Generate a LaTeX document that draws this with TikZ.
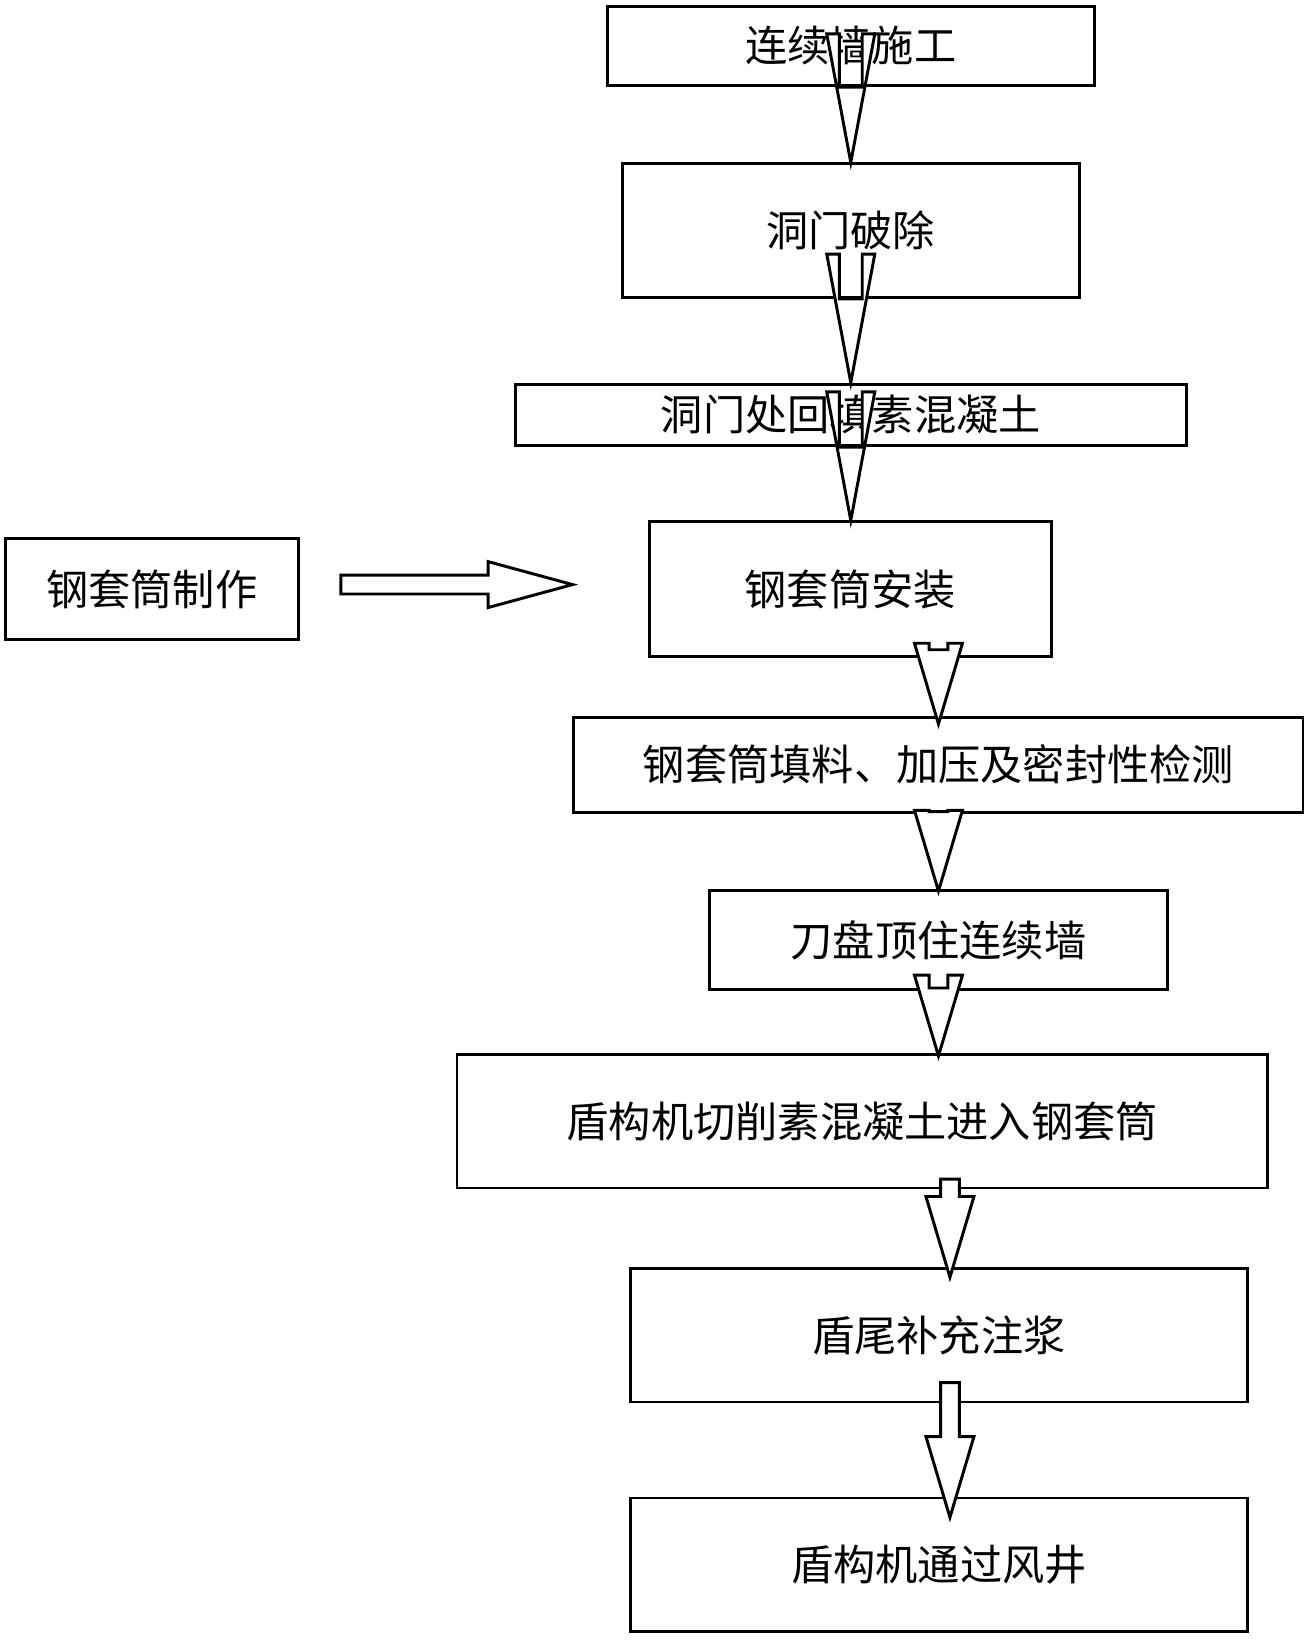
\documentclass[tikz,border=0pt]{standalone}
\usepackage{fontspec}
\setmainfont{Noto Sans CJK SC}
\usetikzlibrary{calc}
\tikzset{
  step/.style={draw, thick, minimum height=#1, inner sep=0pt, font=\fontsize{11.5}{14}\selectfont},
  blk/.style={draw, thick, fill=white}
}
% hollow arrow: from node, to node, x position, shaft half width, head half width, head length, gaps
\newcommand{\flowarrow}[7]{%
  \draw[blk] let \p1=($(#1.south)+(0,-#7)$), \p2=($(#2.north)+(0,#7)$) in
    (#3-#4,\y1) -- (#3-#4,\y2+#6) -- (#3-#5,\y2+#6) -- (#3,\y2)
    -- (#3+#5,\y2+#6) -- (#3+#4,\y2+#6) -- (#3+#4,\y1) -- cycle;}
\begin{document}
\begin{tikzpicture}[x=0.01cm, y=-0.01cm]
  \useasboundingbox (0,0) rectangle (1256,1572);
  \node[step=0.76cm, minimum width=4.66cm] (wall) at (815,44) {连续墙施工};
  \node[step=1.28cm, minimum width=4.38cm] (break) at (815,221) {洞门破除};
  \node[step=0.59cm, minimum width=6.42cm] (fill) at (815,397.5) {洞门处回填素混凝土};
  \node[step=1.29cm, minimum width=3.85cm] (install) at (814.5,564.5) {钢套筒安装};
  \node[step=0.97cm, minimum width=2.81cm] (make) at (145.5,564.5) {钢套筒制作};
  \node[step=0.91cm, minimum width=6.98cm] (test) at (899,732.5) {钢套筒填料、加压及密封性检测};
  \node[step=0.95cm, minimum width=4.38cm] (cutter) at (899,900.5) {刀盘顶住连续墙};
  \node[step=1.28cm, minimum width=7.76cm] (cut) at (826,1074) {盾构机切削素混凝土进入钢套筒};
  \node[step=1.28cm, minimum width=5.91cm] (grout) at (899.5,1279) {盾尾补充注浆};
  \node[step=1.28cm, minimum width=5.91cm] (pass) at (899.5,1499) {盾构机通过风井};

  \flowarrow{wall}{break}{815}{11}{23}{35}{0}
  \flowarrow{break}{fill}{815}{11}{23}{35}{0}
  \flowarrow{fill}{install}{815}{11}{23}{35}{0}
  \flowarrow{install}{test}{899}{9}{23}{22}{8}
  \flowarrow{test}{cutter}{899}{9}{23}{22}{2}
  \flowarrow{cutter}{cut}{899}{9}{23}{22}{3}
  \flowarrow{cut}{grout}{910}{9}{23}{22}{10}
  \flowarrow{grout}{pass}{910}{9}{23}{22}{20}
  \draw[blk] let \p1=($(make.east)+(39,0)$), \p2=($(install.west)+(-72,0)$) in
    (\x1,551) -- (\x2-23,551) -- (\x2-23,538) -- (\x2,560) -- (\x2-23,582)
    -- (\x2-23,569) -- (\x1,569) -- cycle;
\end{tikzpicture}
\end{document}
